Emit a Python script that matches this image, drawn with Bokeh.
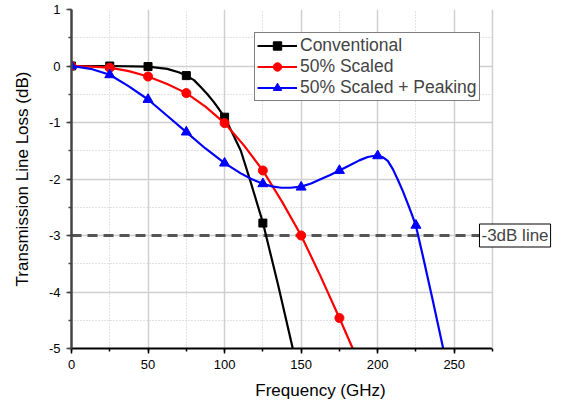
from bokeh.plotting import figure
from bokeh.models import (Legend, LegendItem, Label, Span, SingleIntervalTicker,
                          Range1d, BoxAnnotation)
from bokeh.embed import file_html
from bokeh.resources import INLINE

# Marker data (GHz, dB)
conv_mk_f = [0, 25, 50, 75, 100, 125]
conv_mk = [0.0, 0.0, -0.01, -0.17, -0.906, -2.78]
sc_mk_f = [0, 25, 50, 75, 100, 125, 150, 175]
sc_mk = [0.0, -0.03, -0.186, -0.48, -1.01, -1.85, -3.0, -4.46]
pk_mk_f = [0, 25, 50, 75, 100, 125, 150, 175, 200, 225]
pk_mk = [0.0, -0.156, -0.593, -1.17, -1.72, -2.085, -2.145, -1.85, -1.59, -2.82]

# Points
conv_cf = [0, 25, 50, 62.5, 70, 75, 80, 84.4, 88.5, 93, 96.5, 100, 105, 110.6, 117,
           125, 135, 144.8, 150]
conv_cv = [0.0, 0.0, -0.01, -0.05, -0.11, -0.17, -0.25, -0.37, -0.49, -0.64, -0.77,
           -0.906, -1.18, -1.50, -2.05, -2.77, -3.88, -5.03, -5.6]
sc_cf = [0, 12.5, 25, 37.5, 50, 62.5, 75, 87.5, 100, 112.5, 125, 137.5, 150, 162.5,
         175, 183.7, 190]
sc_cv = [0.0, -0.01, -0.03, -0.09, -0.186, -0.32, -0.48, -0.72, -1.01, -1.40, -1.85,
         -2.40, -3.0, -3.71, -4.46, -5.0, -5.4]
pk_cf = [0, 12.5, 25, 37.5, 50, 62.5, 75, 87.5, 100, 110.6, 117.5, 125, 131, 137, 143,
         150, 156.5, 163, 169, 175, 181.5, 188, 193.5, 199, 203, 206.6, 210, 213.1,
         216.5, 219.7, 222.5, 225, 230, 236, 242.8, 246]
pk_cv = [0.0, -0.05, -0.156, -0.36, -0.593, -0.88, -1.17, -1.46, -1.72, -1.90, -2.00,
         -2.085, -2.13, -2.155, -2.155, -2.135, -2.08, -2.0, -1.93, -1.85, -1.76, -1.67,
         -1.61, -1.584, -1.61, -1.68, -1.83, -2.01, -2.22, -2.44, -2.64, -2.83, -3.42,
         -4.15, -5.0, -5.4]

x_axis_min, x_axis_max = 0, 275
y_axis_min, y_axis_max = -5, 1
y_tick_values = [-5, -4, -3, -2, -1, 0, 1]
y_tick_labels = ["-5", "-4", "-3", "-2", "-1", "0", "1"]
cutoff_db = -3
cutoff_label = "-3dB line"

FONT = "Liberation Sans"

p = figure(width=569, height=407, output_backend="svg", toolbar_location=None,
           x_range=Range1d(0, 325.3), y_range=Range1d(y_axis_min, y_axis_max),
           min_border_left=71, min_border_right=0, min_border_top=9, min_border_bottom=59)
p.outline_line_color = None
p.background_fill_color = "white"
p.border_fill_color = "white"

xt = SingleIntervalTicker(interval=50, num_minor_ticks=2)
yt = SingleIntervalTicker(interval=1, num_minor_ticks=2)
p.xaxis.ticker = xt
p.yaxis.ticker = yt
p.xgrid.ticker = xt
p.ygrid.ticker = yt
p.xaxis.bounds = (x_axis_min, x_axis_max)
p.yaxis.major_label_overrides = dict(zip(y_tick_values, y_tick_labels))

for g in (p.xgrid, p.ygrid):
    g.grid_line_color = "#d0d0d0"
    g.grid_line_width = 1.5
    g.minor_grid_line_color = "#c4c4c4"
    g.minor_grid_line_dash = "1 2"
    g.minor_grid_line_width = 1

for ax in (p.xaxis, p.yaxis):
    ax.axis_line_width = 2
    ax.major_tick_line_width = 1.5
    ax.minor_tick_line_width = 1.5
    ax.major_tick_in = 0
    ax.major_tick_out = 5
    ax.minor_tick_in = 0
    ax.minor_tick_out = 3
    ax.major_label_standoff = 6
    ax.major_label_text_font = FONT
    ax.major_label_text_font_size = "13px"
    ax.major_label_text_color = "black"
    ax.axis_label_text_font = FONT
    ax.axis_label_text_font_size = "17px"
    ax.axis_label_text_font_style = "normal"
    ax.axis_label_text_color = "black"
p.xaxis.axis_line_color = "black"
p.yaxis.axis_line_color = "#444444"
p.yaxis.axis_line_width = 2.5
p.yaxis.major_tick_line_color = "#444444"
p.yaxis.minor_tick_line_color = "#444444"
p.xaxis.axis_label = "Frequency (GHz)"
p.yaxis.axis_label = "Transmission Line Loss (dB)"
p.xaxis.axis_label_standoff = 9
p.yaxis.axis_label_standoff = 14

# dashed -3 dB reference line across the frequency axis
p.line([x_axis_min, x_axis_max], [cutoff_db, cutoff_db], line_color="#555555",
       line_width=3, line_dash="10 6")

LW = 2.2
l1 = p.line(conv_cf, conv_cv, line_color="black", line_width=LW)
m1 = p.scatter(conv_mk_f, conv_mk, marker="square", size=8, color="black")
l2 = p.line(sc_cf, sc_cv, line_color="red", line_width=LW)
m2 = p.scatter(sc_mk_f, sc_mk, marker="circle", size=9, color="red")
l3 = p.line(pk_cf, pk_cv, line_color="blue", line_width=LW)
m3 = p.scatter(pk_mk_f, pk_mk, marker="triangle", size=10, color="blue")

# blank out the area right of the frequency axis end
p.add_layout(BoxAnnotation(left=x_axis_max, fill_color="white", fill_alpha=1,
                           line_color=None))
p.add_layout(Span(location=x_axis_max, dimension="height", line_color="#d0d0d0",
                  line_width=1.5))

legend = Legend(items=[
    LegendItem(label="Conventional", renderers=[l1, m1]),
    LegendItem(label="50% Scaled", renderers=[l2, m2]),
    LegendItem(label="50% Scaled + Peaking", renderers=[l3, m3]),
], location=(183, 247))
legend.label_text_font = FONT
legend.label_text_font_size = "17.5px"
legend.label_height = 21
legend.glyph_height = 21
legend.glyph_width = 40
legend.label_standoff = 3
legend.spacing = 0
legend.padding = 2
legend.margin = 0
legend.border_line_color = "black"
legend.border_line_width = 1.5
legend.background_fill_alpha = 1
p.add_layout(legend)

lab = Label(x=266.5, y=cutoff_db, text=cutoff_label, text_font=FONT,
            text_font_size="17px", text_baseline="middle", text_align="left",
            border_line_color="black", border_line_width=1,
            background_fill_color="white", padding=2)
p.add_layout(lab)

open("out.html", "w").write(file_html(p, INLINE))
